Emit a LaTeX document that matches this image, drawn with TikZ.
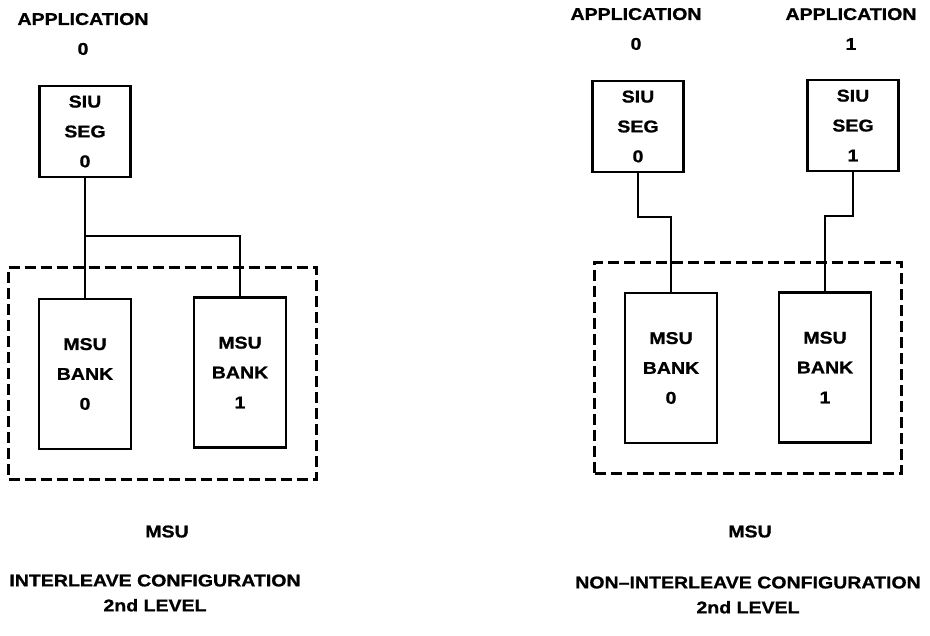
\documentclass[tikz,border=0pt]{standalone}
\usepackage{fontspec}
\setmainfont{Liberation Sans}[FakeStretch=1.15, BoldFeatures={FakeBold=1}]
\usetikzlibrary{positioning,fit}

\begin{document}
\begin{tikzpicture}[
        x=0.3mm, y=-0.3mm,
        every node/.style={
            font=\bfseries\fontsize{14.5}{25.5}\selectfont,
            align=center
        },
        siubox/.style={
            draw,
            line width=2.2pt,
            minimum width=27.3mm,
            minimum height=27.3mm,
            inner sep=0pt
        },
        bankbox/.style={
            draw,
            line width=2.2pt,
            minimum width=27.6mm,
            minimum height=45mm,
            inner sep=0pt
        },
        msuframe/.style={
            draw,
            line width=2.4pt,
            dash pattern=on 3.3mm off 1.5mm,
            inner sep=8.7mm
        },
        wire/.style={
            line width=1.7pt
        },
        caption/.style={
            font=\bfseries\fontsize{14.5}{21.3}\selectfont
        }
    ]

    \useasboundingbox (0,0) rectangle (930,635);

    % interleave configuration
    \node (appL) at (83,34) {APPLICATION\\0};
    \node[siubox] (siuL) at (85,131.5) {SIU\\SEG\\0};
    \node[bankbox] (bankLa) at (85,374) {MSU\\BANK\\0};
    \node[bankbox] (bankLb) at (240,372.5) {MSU\\BANK\\1};
    \node[msuframe, fit=(bankLa)(bankLb)] (msuL) {};
    \node (msuLname) at (167,531.5) {MSU};
    \node[caption] (cfgL) at (155,593) {INTERLEAVE CONFIGURATION\\2nd LEVEL};

    \coordinate (jL) at (85,236);
    \draw[wire] (siuL.south) -- (bankLa.north);
    \draw[wire] (jL) -| (bankLb.north);

    % non-interleave configuration
    \node (appRa) at (636,29) {APPLICATION\\0};
    \node (appRb) at (851,29) {APPLICATION\\1};
    \node[siubox] (siuRa) at (638,126.5) {SIU\\SEG\\0};
    \node[siubox] (siuRb) at (853,125.5) {SIU\\SEG\\1};
    \node[bankbox] (bankRa) at (671,368) {MSU\\BANK\\0};
    \node[bankbox] (bankRb) at (825,367.5) {MSU\\BANK\\1};
    \node[msuframe, fit=(bankRa)(bankRb)] (msuR) {};
    \node (msuRname) at (750,531.5) {MSU};
    \node[caption] (cfgR) at (748,595) {NON--INTERLEAVE CONFIGURATION\\2nd LEVEL};

    \draw[wire] (siuRa.south) -- ++(0,44) -| (bankRa.north);
    \draw[wire] (siuRb.south) -- ++(0,44) -| (bankRb.north);

\end{tikzpicture}
\end{document}
